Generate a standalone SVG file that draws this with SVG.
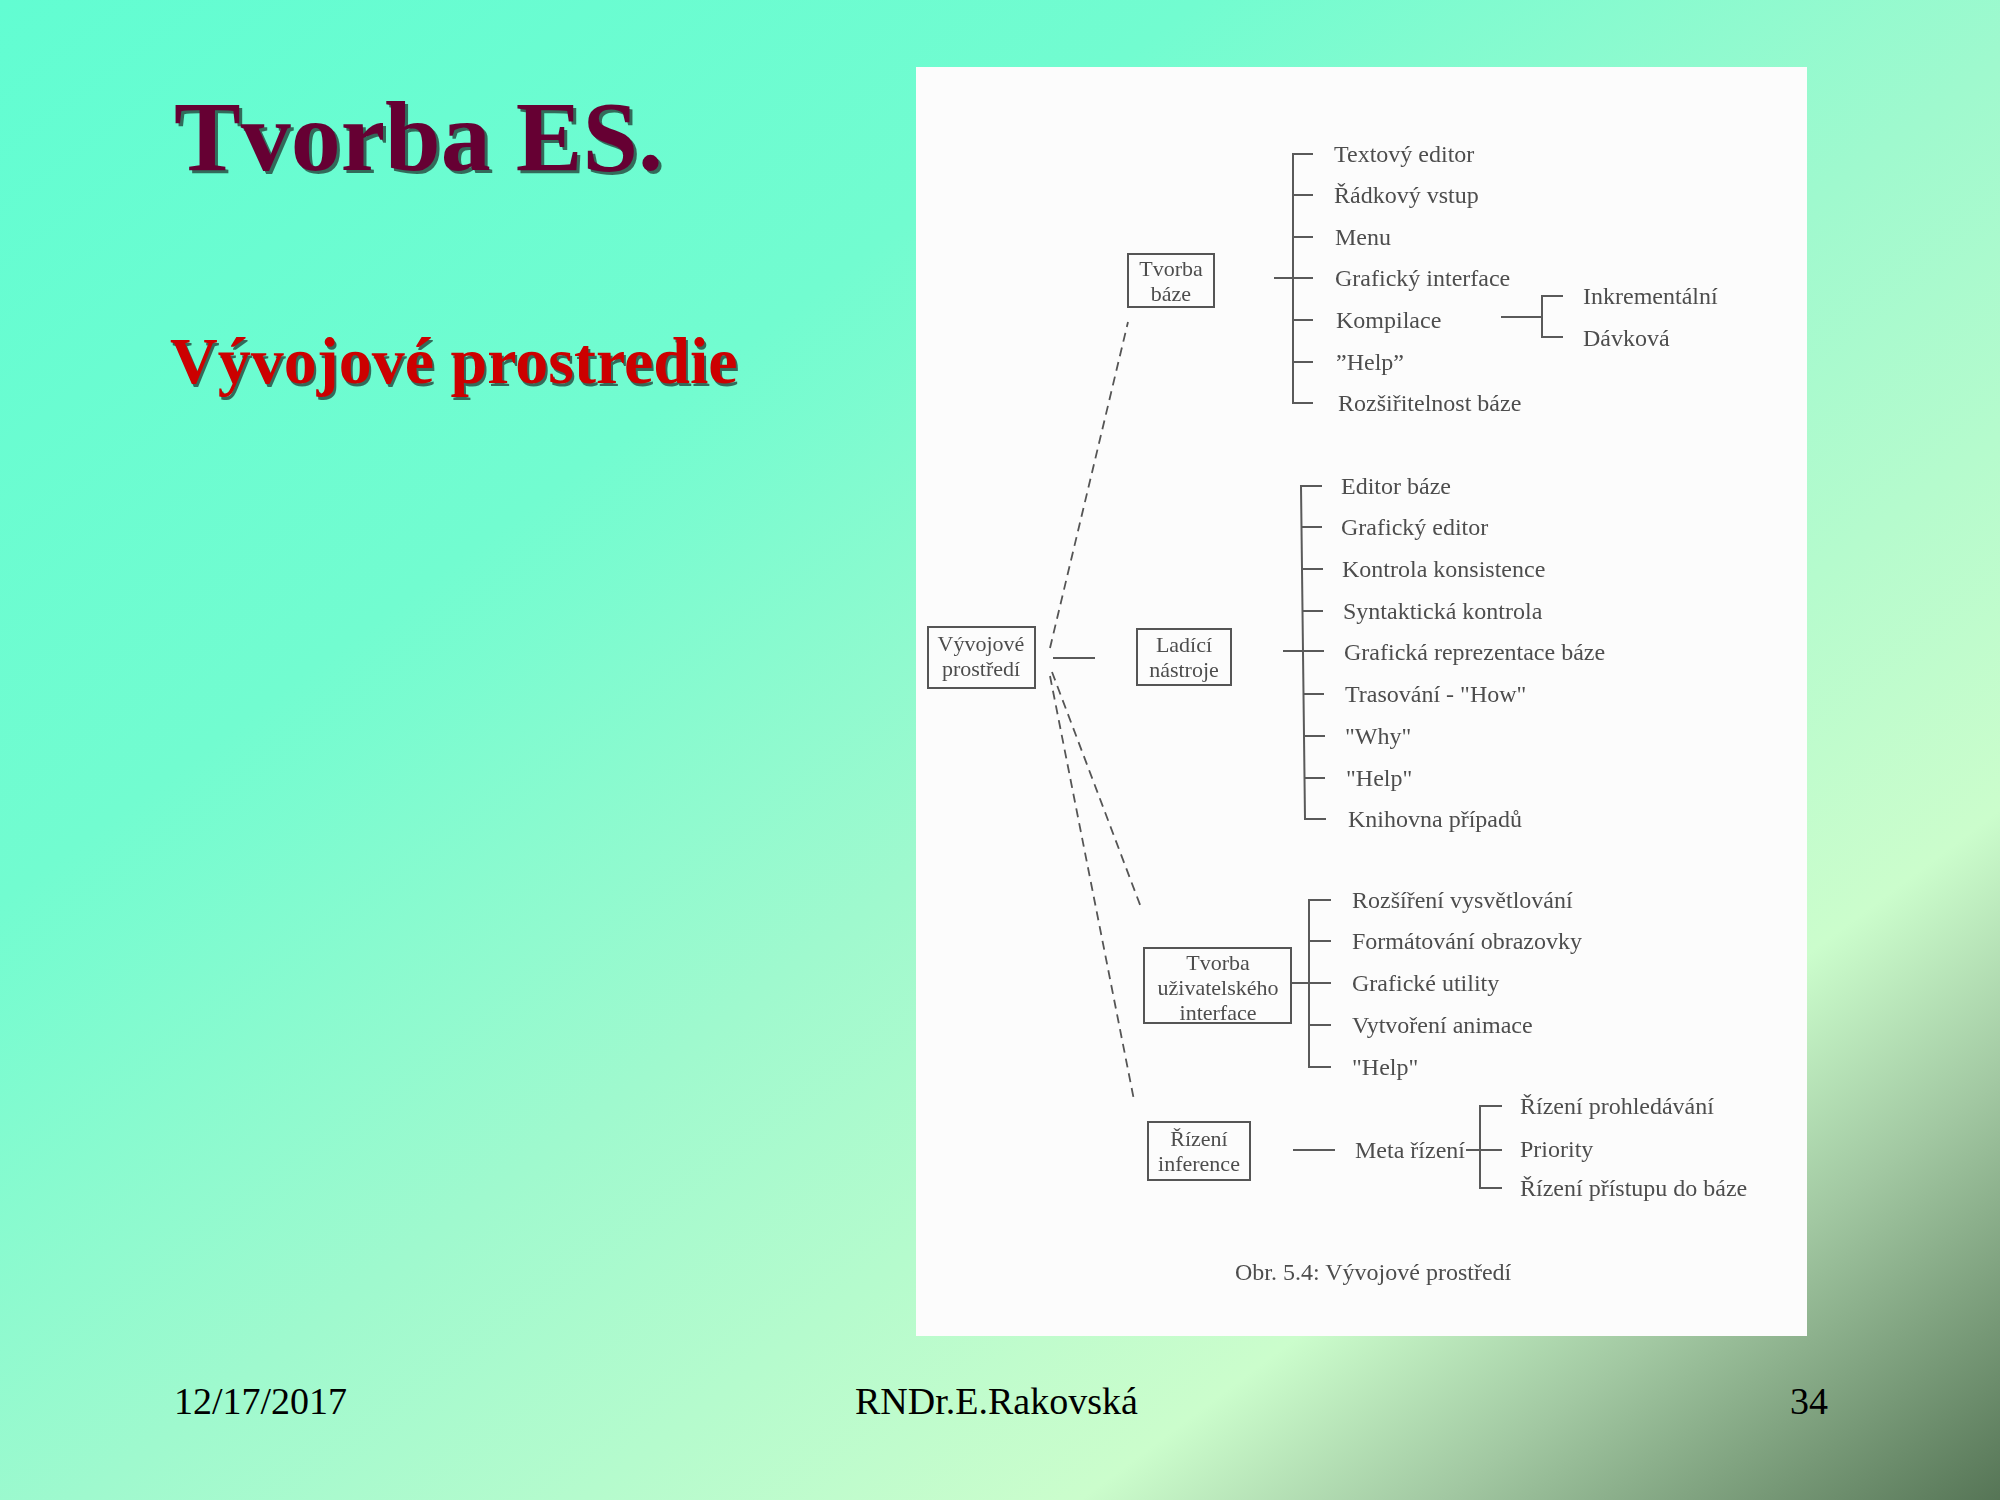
<svg xmlns="http://www.w3.org/2000/svg" width="2000" height="1500" viewBox="0 0 2000 1500">
  <defs>
    <linearGradient id="bg" x1="0" y1="0" x2="1" y2="1">
      <stop offset="0" stop-color="#62fdd2"/>
      <stop offset="0.3" stop-color="#72fcd0"/>
      <stop offset="0.52" stop-color="#9ff9ce"/>
      <stop offset="0.77" stop-color="#cbfdcc"/>
      <stop offset="0.86" stop-color="#a2c8a2"/>
      <stop offset="1" stop-color="#567556"/>
    </linearGradient>
    <filter id="soft" x="-2%" y="-2%" width="104%" height="104%">
      <feGaussianBlur stdDeviation="0.45"/>
    </filter>
    <style>
      .title { font-family: "Liberation Serif", "Times New Roman", serif; font-weight: bold; }
      .shadow { fill: #1f3b33; opacity: 0.75; }
      .foot { font-family: "Liberation Serif", "Times New Roman", serif; font-size: 38px; fill: #000; }
      .lbl { font-family: "Liberation Serif", "Times New Roman", serif; font-size: 24px; fill: #4d4d4d; }
      .blbl { font-family: "Liberation Serif", "Times New Roman", serif; font-size: 22px; fill: #4d4d4d; text-anchor: middle; }
      .box { fill: none; stroke: #555; stroke-width: 2; }
      .ln { fill: none; stroke: #5a5a5a; stroke-width: 2; }
      .dash { fill: none; stroke: #555; stroke-width: 1.8; stroke-dasharray: 9 6; }
    </style>
  </defs>

  <!-- slide background -->
  <rect x="0" y="0" width="2000" height="1500" fill="url(#bg)"/>

  <!-- headings -->
  <g id="title">
    <text class="title shadow" x="177" y="173" font-size="100">Tvorba ES.</text>
    <text class="title" x="174" y="170" font-size="100" fill="#660033">Tvorba ES.</text>
  </g>
  <g id="subtitle">
    <text class="title shadow" x="172" y="386" font-size="66">Vývojové prostredie</text>
    <text class="title" x="170" y="383" font-size="66" fill="#cc0000">Vývojové prostredie</text>
  </g>

  <!-- footer -->
  <g id="footer">
    <text class="foot" x="174" y="1414">12/17/2017</text>
    <text class="foot" x="855" y="1414">RNDr.E.Rakovská</text>
    <text class="foot" x="1790" y="1414">34</text>
  </g>

  <!-- scanned figure sheet -->
  <rect x="916" y="67" width="891" height="1269" fill="#fcfcfc"/>

  <g id="figure" filter="url(#soft)">
    <!-- connectors -->
    <g id="connectors">
      <!-- root to branches -->
      <line class="ln" x1="1053" y1="658" x2="1095" y2="658"/>
      <line class="dash" x1="1050" y1="648" x2="1128" y2="322"/>
      <line class="dash" x1="1052" y1="672" x2="1142" y2="910"/>
      <line class="dash" x1="1050" y1="676" x2="1134" y2="1100"/>

      <!-- Tvorba báze bracket -->
      <path class="ln" d="M1313,154 H1293 V403 H1313"/>
      <path class="ln" d="M1293,195 H1313 M1293,237 H1313 M1274,278 H1313 M1293,320 H1313 M1293,362 H1313"/>
      <!-- Kompilace sub-bracket -->
      <path class="ln" d="M1501,317 H1542 M1563,296 H1542 V337 H1563"/>

      <!-- Ladící nástroje bracket -->
      <path class="ln" d="M1322,486 H1301 L1305,819 H1326"/>
      <path class="ln" d="M1301,527 H1322 M1302,569 H1323 M1302,611 H1323 M1283,651 H1324 M1303,694 H1324 M1304,736 H1325 M1304,778 H1325"/>

      <!-- Tvorba uživatelského interface bracket -->
      <path class="ln" d="M1331,900 H1309 V1067 H1331"/>
      <path class="ln" d="M1309,941 H1331 M1291,983 H1331 M1309,1025 H1331"/>

      <!-- Řízení inference -->
      <line class="ln" x1="1293" y1="1150" x2="1335" y2="1150"/>
      <path class="ln" d="M1466,1150 H1502 M1502,1106 H1480 V1188 H1502"/>
    </g>

    <!-- root node -->
    <g id="n-vyvojove">
      <rect class="box" x="928" y="627" width="107" height="61"/>
      <text class="blbl" x="981" y="651">Vývojové</text>
      <text class="blbl" x="981" y="676">prostředí</text>
    </g>

    <!-- branch: Tvorba báze -->
    <g id="n-tvorba-baze">
      <rect class="box" x="1128" y="254" width="86" height="53"/>
      <text class="blbl" x="1171" y="276">Tvorba</text>
      <text class="blbl" x="1171" y="301">báze</text>
    </g>
    <g id="tvorba-baze-items">
      <text class="lbl" x="1334" y="162">Textový editor</text>
      <text class="lbl" x="1334" y="203">Řádkový vstup</text>
      <text class="lbl" x="1335" y="245">Menu</text>
      <text class="lbl" x="1335" y="286">Grafický interface</text>
      <text class="lbl" x="1336" y="328">Kompilace</text>
      <text class="lbl" x="1336" y="370">”Help”</text>
      <text class="lbl" x="1338" y="411">Rozšiřitelnost báze</text>
      <text class="lbl" x="1583" y="304">Inkrementální</text>
      <text class="lbl" x="1583" y="346">Dávková</text>
    </g>

    <!-- branch: Ladící nástroje -->
    <g id="n-ladici">
      <rect class="box" x="1137" y="629" width="94" height="56"/>
      <text class="blbl" x="1184" y="652">Ladící</text>
      <text class="blbl" x="1184" y="677">nástroje</text>
    </g>
    <g id="ladici-items">
      <text class="lbl" x="1341" y="494">Editor báze</text>
      <text class="lbl" x="1341" y="535">Grafický editor</text>
      <text class="lbl" x="1342" y="577">Kontrola konsistence</text>
      <text class="lbl" x="1343" y="619">Syntaktická kontrola</text>
      <text class="lbl" x="1344" y="660">Grafická reprezentace báze</text>
      <text class="lbl" x="1345" y="702">Trasování - "How"</text>
      <text class="lbl" x="1345" y="744">"Why"</text>
      <text class="lbl" x="1346" y="786">"Help"</text>
      <text class="lbl" x="1348" y="827">Knihovna případů</text>
    </g>

    <!-- branch: Tvorba uživatelského interface -->
    <g id="n-tvorba-ui">
      <rect class="box" x="1144" y="948" width="147" height="75"/>
      <text class="blbl" x="1218" y="970">Tvorba</text>
      <text class="blbl" x="1218" y="995">uživatelského</text>
      <text class="blbl" x="1218" y="1020">interface</text>
    </g>
    <g id="tvorba-ui-items">
      <text class="lbl" x="1352" y="908">Rozšíření vysvětlování</text>
      <text class="lbl" x="1352" y="949">Formátování obrazovky</text>
      <text class="lbl" x="1352" y="991">Grafické utility</text>
      <text class="lbl" x="1352" y="1033">Vytvoření animace</text>
      <text class="lbl" x="1352" y="1075">"Help"</text>
    </g>

    <!-- branch: Řízení inference -->
    <g id="n-rizeni">
      <rect class="box" x="1148" y="1122" width="102" height="58"/>
      <text class="blbl" x="1199" y="1146">Řízení</text>
      <text class="blbl" x="1199" y="1171">inference</text>
    </g>
    <g id="rizeni-items">
      <text class="lbl" x="1355" y="1158">Meta řízení</text>
      <text class="lbl" x="1520" y="1114">Řízení prohledávání</text>
      <text class="lbl" x="1520" y="1157">Priority</text>
      <text class="lbl" x="1520" y="1196">Řízení přístupu do báze</text>
    </g>

    <!-- figure caption -->
    <text id="caption" class="lbl" x="1235" y="1280" font-size="26">Obr. 5.4: Vývojové prostředí</text>
  </g>
</svg>
